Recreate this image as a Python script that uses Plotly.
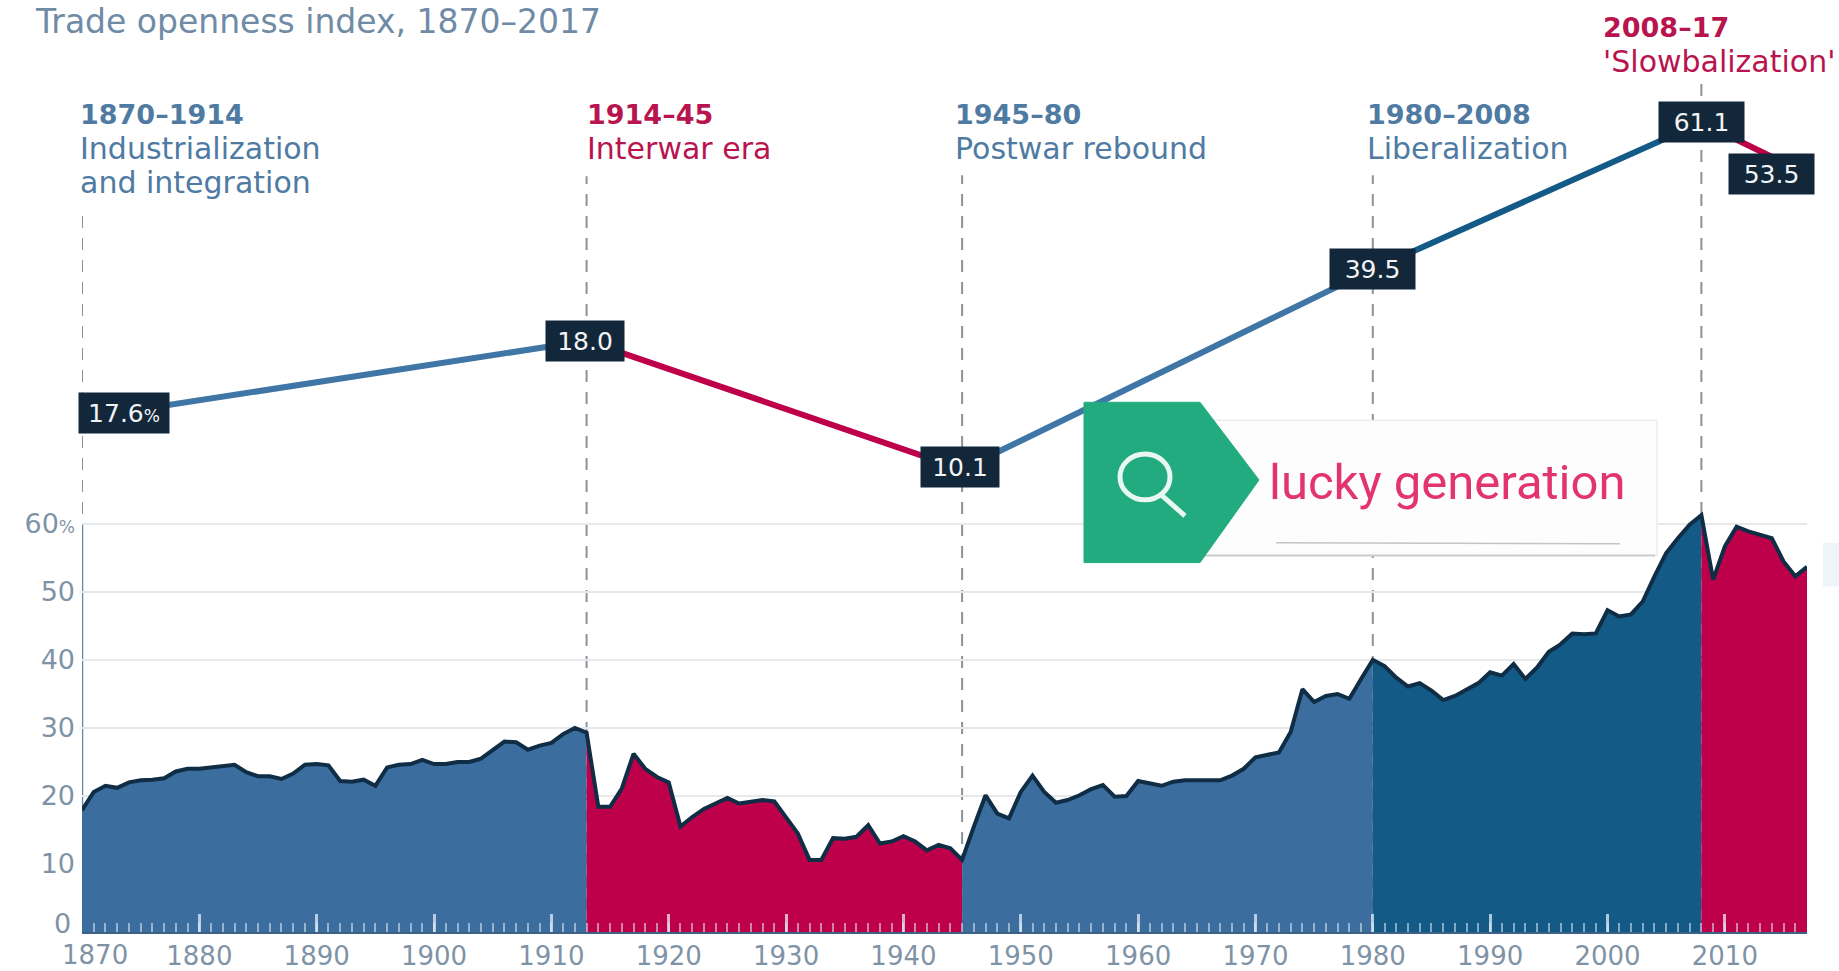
import plotly.graph_objects as go

# ---------- data ----------
years = list(range(1870, 2018))
openness = [
    17.9, 20.6, 21.5, 21.2, 22.0, 22.3, 22.4, 22.6, 23.6, 24.0,
    24.0, 24.2, 24.3, 24.6, 23.5, 22.9, 22.9, 22.5, 23.3, 24.6,
    24.7, 24.5, 22.2, 22.1, 22.4, 21.5, 24.2, 24.6, 24.7, 25.3,
    24.7, 24.7, 25.0, 25.0, 25.5, 26.8, 28.0, 27.9, 26.8, 27.4,
    27.8, 29.1, 30.0, 29.3, 18.4, 18.4, 21.1, 26.2, 24.0, 22.8,
    22.0, 15.5, 16.9, 18.1, 18.9, 19.7, 18.9, 19.2, 19.4, 19.2,
    16.9, 14.5, 10.6, 10.6, 13.8, 13.7, 14.0, 15.7, 13.0, 13.3,
    14.1, 13.3, 12.0, 12.8, 12.3, 10.6, 15.5, 20.1, 17.4, 16.7,
    20.6, 23.0, 20.6, 19.0, 19.4, 20.1, 21.0, 21.6, 19.9, 20.0,
    22.2, 21.8, 21.5, 22.1, 22.3, 22.3, 22.3, 22.3, 23.0, 24.0,
    25.7, 26.0, 26.4, 29.4, 35.7, 33.8, 34.7, 35.0, 34.3, 37.2,
    40.0, 39.1, 37.4, 36.1, 36.6, 35.5, 34.1, 34.7, 35.6, 36.6,
    38.2, 37.7, 39.4, 37.2, 38.9, 41.2, 42.3, 43.9, 43.8, 43.9,
    47.3, 46.4, 46.7, 48.6, 52.3, 55.7, 57.9, 59.9, 61.3, 51.8,
    56.7, 59.6, 58.9, 58.4, 57.9, 54.5, 52.3, 53.7,
]

period_starts = [1870, 1913, 1945, 1980, 2008]
period_ends = [1913, 1945, 1980, 2008, 2017]
period_colors = ["#3c6d9f", "#bd0049", "#3c6d9f", "#135a87", "#bd0049"]
line_colors = ["#3f76a6", "#bd0049", "#3f76a6", "#135a87", "#bd0049"]

summary_years = [1870, 1913, 1945, 1980, 2008, 2017]
summary_heights = [17.6, 29.0, 10.1, 39.5, 61.1, 53.5]
summary_labels = ["17.6<span style='font-size:17px'>%</span>", "18.0", "10.1", "39.5", "61.1", "53.5"]

y_ticks = [10, 20, 30, 40, 50, 60]
y_labels = ["10", "20", "30", "40", "50", "60<span style='font-size:17px'>%</span>"]
x_ticks = list(range(1870, 2011, 10))
x_labels = [""] + [str(v) for v in range(1880, 2011, 10)]

period_text = [
    (1870, ["1870–1914", "Industrialization", "and integration"], "#4f7ba3"),
    (1914, ["1914–45", "Interwar era"], "#b8154f"),
    (1945, ["1945–80", "Postwar rebound"], "#4f7ba3"),
    (1980, ["1980–2008", "Liberalization"], "#4f7ba3"),
    (2008, ["2008–17", "'Slowbalization'"], "#b8154f"),
]

# ---------- layout geometry (pixels of the page) ----------
W, H = 1839, 971
L, R, B = 82, 1807, 934
PXU = 6.83                       # pixels per index point


def px(v):
    return (v - L) / (R - L)


def py(v):
    return 1 - v / B


FONT = "DejaVu Sans"
TICK = "#7f93a6"
fig = go.Figure()

# lower panel: filled areas per period
for s, e, c in zip(period_starts, period_ends, period_colors):
    i0, i1 = years.index(s), years.index(e)
    fig.add_trace(go.Scatter(x=years[i0:i1 + 1], y=openness[i0:i1 + 1], mode="lines",
                             line=dict(width=0), fill="tozeroy", fillcolor=c,
                             hoverinfo="skip", showlegend=False, xaxis="x", yaxis="y"))
fig.add_trace(go.Scatter(x=years, y=openness, mode="lines",
                         line=dict(color="#0f2d45", width=4, shape="linear"),
                         hoverinfo="skip", showlegend=False, xaxis="x", yaxis="y"))

# upper panel: period summary line
for k in range(len(summary_years) - 1):
    fig.add_trace(go.Scatter(x=summary_years[k:k + 2], y=summary_heights[k:k + 2], mode="lines",
                             line=dict(color=line_colors[k], width=6),
                             hoverinfo="skip", showlegend=False, xaxis="x", yaxis="y2"))

# ---------- shapes ----------
shapes = []
dash_tops = [210, 175, 174, 174, 76]
for yr, top in zip(period_starts, dash_tops):
    shapes.append(dict(type="line", xref="x", yref="paper", x0=yr, x1=yr, y0=0, y1=py(top),
                       line=dict(color="#8a939c", width=2, dash="12px,10px"), layer="below"))
shapes.append(dict(type="line", xref="x", yref="y", x0=1870, x1=2017, y0=60, y1=60,
                   line=dict(color="#c6ccd2", width=2), layer="below"))
shapes.append(dict(type="line", xref="x", yref="y", x0=1870, x1=1870, y0=0, y1=60,
                   line=dict(color="#5f86a8", width=2.5), layer="below"))

# search-widget overlay
shapes.append(dict(type="rect", xref="paper", yref="paper", x0=px(1180), x1=px(1657), y0=py(556), y1=py(420),
                   fillcolor="#fdfdfd", line=dict(color="#e2e3e3", width=1), layer="above"))
shapes.append(dict(type="line", xref="paper", yref="paper", x0=px(1200), x1=px(1655), y0=py(556), y1=py(556),
                   line=dict(color="#c9cccc", width=2), layer="above"))
shapes.append(dict(type="line", xref="paper", yref="paper", x0=px(1276), x1=px(1620), y0=py(543), y1=py(544),
                   line=dict(color="#c2c5c5", width=1.5), layer="above"))
pent = [(1084, 402), (1200, 402), (1259, 480), (1200, 563), (1084, 563)]
path = "M " + " L ".join(f"{px(a):.5f},{py(b):.5f}" for a, b in pent) + " Z"
shapes.append(dict(type="path", xref="paper", yref="paper", path=path,
                   fillcolor="#22ab7f", line=dict(color="#22ab7f", width=1), layer="above"))
shapes.append(dict(type="circle", xref="paper", yref="paper", x0=px(1120), x1=px(1170), y0=py(500), y1=py(454),
                   line=dict(color="#e8f7f1", width=5), layer="above"))
shapes.append(dict(type="line", xref="paper", yref="paper", x0=px(1160), x1=px(1185), y0=py(494), y1=py(516),
                   line=dict(color="#e8f7f1", width=5), layer="above"))
shapes.append(dict(type="rect", xref="paper", yref="paper", x0=px(1823), x1=px(1839), y0=py(587), y1=py(543),
                   fillcolor="#eef4fa", line=dict(width=0), layer="below"))

# ---------- annotations ----------
ann = []
ann.append(dict(xref="paper", yref="paper", x=px(33), y=py(20), xanchor="left", yanchor="middle",
                text="Trade openness index, 1870–2017", showarrow=False,
                font=dict(family=FONT, size=33, color="#6f8ba6")))

label_left = {1870: 78, 1914: 585, 1945: 953, 1980: 1365, 2008: 1601}
for yr, lines, col in period_text:
    y0 = 26 if yr == 2008 else 113
    for j, line in enumerate(lines):
        ann.append(dict(xref="paper", yref="paper", x=px(label_left[yr]), y=py(y0 + 34 * j),
                        xanchor="left", yanchor="middle", align="left", showarrow=False,
                        text=f"<b>{line}</b>" if j == 0 else line,
                        font=dict(family=FONT, size=27 if j == 0 else 30, color=col)))

box_dx = [42, -2, -2, 0, 0, -36]
box_dy = [5, 0, 2, 0, 0, 0]
box_w = [88, 76, 76, 83, 83, 83]
for yr, h, lab, dx, dy, w in zip(summary_years, summary_heights, summary_labels, box_dx, box_dy, box_w):
    ann.append(dict(xref="x", yref="y2", x=yr, y=h, xshift=dx, yshift=dy, text=lab, showarrow=False,
                    width=w, height=38, bgcolor="#13273a", align="center", valign="middle",
                    font=dict(family=FONT, size=25, color="#f2f4f6")))

ann.append(dict(xref="paper", yref="paper", x=px(73), y=py(925), xanchor="right", yanchor="middle",
                text="0", showarrow=False, font=dict(family=FONT, size=27, color=TICK)))
ann.append(dict(xref="paper", yref="paper", x=px(95), y=py(957), xanchor="center", yanchor="middle",
                text="1870", showarrow=False, font=dict(family=FONT, size=26, color=TICK)))
ann.append(dict(xref="paper", yref="paper", x=px(1267), y=py(483), xanchor="left", yanchor="middle",
                text="lucky generation", showarrow=False,
                font=dict(family="Roboto", size=49, color="#e2356f")))

fig.update_layout(
    width=W, height=H, autosize=False,
    margin=dict(l=L, r=W - R, t=0, b=H - B, pad=0),
    paper_bgcolor="white", plot_bgcolor="rgba(0,0,0,0)",
    showlegend=False, shapes=shapes, annotations=ann,
    xaxis=dict(range=[1870, 2017], tickmode="array", tickvals=x_ticks, ticktext=x_labels,
               ticks="inside", ticklen=18, tickwidth=3, tickcolor="rgba(225,238,250,0.75)",
               minor=dict(dtick=1, ticks="inside", ticklen=9, tickwidth=2, tickcolor="rgba(225,238,250,0.55)"),
               showgrid=False, zeroline=False, showline=True, linecolor="#3c6288", linewidth=2,
               layer="above traces", tickfont=dict(family=FONT, size=26, color=TICK), anchor="y",
               fixedrange=True),
    yaxis=dict(domain=[0, 62 * PXU / B], range=[0, 62], tickmode="array", tickvals=y_ticks, ticktext=y_labels,
               showgrid=True, gridcolor="#e6e8ea", gridwidth=2, zeroline=False, showline=False, ticks="",
               ticklabelstandoff=6, tickfont=dict(family=FONT, size=27, color=TICK), anchor="x", fixedrange=True),
    yaxis2=dict(domain=[0, 1], range=[61.1 - (B - 121) / PXU, 61.1 + 121 / PXU], visible=False,
                anchor="x", fixedrange=True),
)
fig.write_html("out.html", config={"displayModeBar": False},
               post_script="document.body.style.margin='0';document.body.style.overflow='hidden';")
